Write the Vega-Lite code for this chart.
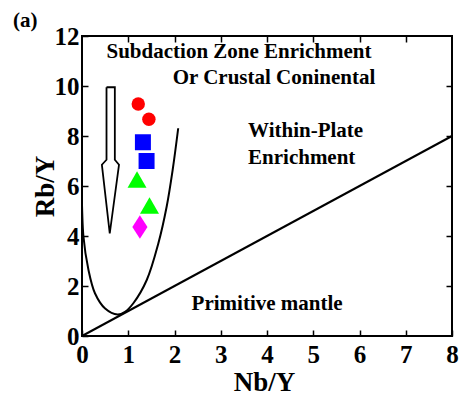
{
  "$schema": "https://vega.github.io/schema/vega-lite/v6.json",
  "width": 370,
  "height": 300,
  "autosize": "none",
  "padding": {"left": 82, "top": 36, "right": 7, "bottom": 63},
  "background": "white",
  "config": {
    "view": {"stroke": "black", "strokeWidth": 2},
    "axis": {
      "domain": false,
      "grid": false,
      "tickColor": "black",
      "tickWidth": 1.5,
      "tickSize": -6,
      "labelFont": "Liberation Serif",
      "labelFontWeight": "bold",
      "labelFontSize": 25,
      "labelColor": "black",
      "labelFlush": false,
      "labelOverlap": false,
      "titleFont": "Liberation Serif",
      "titleFontWeight": "bold",
      "titleFontSize": 27,
      "titleColor": "black"
    }
  },
  "datasets": {
    "samples": [
      {"nby": 1.216, "rby": 9.28, "g": "circle"},
      {"nby": 1.446, "rby": 8.67, "g": "circle"},
      {"nby": 1.317, "rby": 7.75, "g": "square"},
      {"nby": 1.396, "rby": 7.0, "g": "square"},
      {"nby": 1.19, "rby": 6.26, "g": "triangle"},
      {"nby": 1.46, "rby": 5.22, "g": "triangle"},
      {"nby": 1.252, "rby": 4.36, "g": "diamond"}
    ],
    "mantle": [
      {"nby": 0, "rby": 0},
      {"nby": 8, "rby": 8}
    ],
    "curve": [
      {"o": 1, "nby": -0.07, "rby": 9.2},
      {"o": 2, "nby": -0.02, "rby": 7.0},
      {"o": 3, "nby": 0.03, "rby": 4.0},
      {"o": 4, "nby": 0.14, "rby": 2.64},
      {"o": 5, "nby": 0.28, "rby": 1.71},
      {"o": 6, "nby": 0.5, "rby": 1.1},
      {"o": 7, "nby": 0.77, "rby": 0.86},
      {"o": 8, "nby": 0.93, "rby": 0.97},
      {"o": 9, "nby": 1.11, "rby": 1.31},
      {"o": 10, "nby": 1.4, "rby": 2.24},
      {"o": 11, "nby": 1.65, "rby": 3.7},
      {"o": 12, "nby": 1.83, "rby": 5.17},
      {"o": 13, "nby": 1.96, "rby": 6.64},
      {"o": 14, "nby": 2.08, "rby": 8.31}
    ],
    "arrow": [
      {"o": 1, "nby": 0.53, "rby": 9.95},
      {"o": 2, "nby": 0.71, "rby": 9.95},
      {"o": 3, "nby": 0.71, "rby": 7.05},
      {"o": 4, "nby": 0.8, "rby": 6.85},
      {"o": 5, "nby": 0.6, "rby": 4.1},
      {"o": 6, "nby": 0.43, "rby": 6.85},
      {"o": 7, "nby": 0.53, "rby": 7.05},
      {"o": 8, "nby": 0.53, "rby": 9.95}
    ],
    "notes": [
      {"nby": 0.53, "rby": 11.12, "t": "Subdaction Zone Enrichment"},
      {"nby": 1.96, "rby": 10.08, "t": "Or Crustal Coninental"},
      {"nby": 3.59, "rby": 7.96, "t": "Within-Plate"},
      {"nby": 3.59, "rby": 6.88, "t": "Enrichment"},
      {"nby": 2.37, "rby": 1.04, "t": "Primitive mantle"},
      {"nby": -1.49, "rby": 12.37, "t": "(a)"}
    ]
  },
  "layer": [
    {
      "data": {"name": "mantle"},
      "mark": {"type": "line", "color": "black", "strokeWidth": 2},
      "encoding": {
        "x": {"field": "nby", "type": "quantitative", "scale": {"domain": [0, 8], "nice": false, "zero": false},
              "axis": {"orient": "top", "labels": false, "title": null, "values": [1, 2, 3, 4, 5, 6, 7]}},
        "y": {"field": "rby", "type": "quantitative", "scale": {"domain": [0, 12], "nice": false, "zero": false},
              "axis": {"orient": "right", "labels": false, "title": null, "values": [2, 4, 6, 8, 10]}}
      }
    },
    {
      "data": {"name": "curve"},
      "mark": {"type": "line", "color": "black", "strokeWidth": 2, "interpolate": "catmull-rom", "clip": true},
      "encoding": {
        "x": {"field": "nby", "type": "quantitative", "axis": null},
        "y": {"field": "rby", "type": "quantitative", "axis": null},
        "order": {"field": "o", "type": "quantitative"}
      }
    },
    {
      "data": {"name": "arrow"},
      "mark": {"type": "line", "color": "black", "strokeWidth": 1.8},
      "encoding": {
        "x": {"field": "nby", "type": "quantitative", "axis": null},
        "y": {"field": "rby", "type": "quantitative", "axis": null},
        "order": {"field": "o", "type": "quantitative"}
      }
    },
    {
      "data": {"name": "notes"},
      "mark": {"type": "text", "align": "left", "baseline": "alphabetic", "font": "Liberation Serif", "fontWeight": "bold", "fontSize": 21, "color": "black"},
      "encoding": {
        "x": {"field": "nby", "type": "quantitative", "axis": null},
        "y": {"field": "rby", "type": "quantitative", "axis": null},
        "text": {"field": "t", "type": "nominal"}
      }
    },
    {
      "data": {"name": "samples"},
      "transform": [{"filter": "datum.g === 'circle'"}],
      "mark": {"type": "point", "shape": "circle", "filled": true, "opacity": 1, "strokeWidth": 0, "color": "#ff0000", "size": 180},
      "encoding": {
        "x": {"field": "nby", "type": "quantitative",
              "axis": {"orient": "bottom", "title": "Nb/Y", "values": [0, 1, 2, 3, 4, 5, 6, 7, 8], "labelPadding": 12,
                       "titleX": 182, "titleY": 54, "titleBaseline": "alphabetic", "titleAlign": "center"}},
        "y": {"field": "rby", "type": "quantitative",
              "axis": {"orient": "left", "title": "Rb/Y", "values": [0, 2, 4, 6, 8, 10, 12], "labelPadding": 9,
                       "titleX": -29, "titleY": 150, "titleAngle": -90, "titleBaseline": "alphabetic", "titleAlign": "center"}}
      }
    },
    {
      "data": {"name": "samples"},
      "transform": [{"filter": "datum.g === 'square'"}],
      "mark": {"type": "point", "shape": "square", "filled": true, "opacity": 1, "strokeWidth": 0, "color": "#0000ff", "size": 256},
      "encoding": {
        "x": {"field": "nby", "type": "quantitative", "axis": null},
        "y": {"field": "rby", "type": "quantitative", "axis": null}
      }
    },
    {
      "data": {"name": "samples"},
      "transform": [{"filter": "datum.g === 'triangle'"}],
      "mark": {"type": "point", "shape": "triangle-up", "filled": true, "opacity": 1, "strokeWidth": 0, "color": "#00ff00", "size": 360},
      "encoding": {
        "x": {"field": "nby", "type": "quantitative", "axis": null},
        "y": {"field": "rby", "type": "quantitative", "axis": null}
      }
    },
    {
      "data": {"name": "samples"},
      "transform": [{"filter": "datum.g === 'diamond'"}],
      "mark": {"type": "point", "shape": "M-0.64,0L0,-1L0.64,0L0,1Z", "filled": true, "opacity": 1, "strokeWidth": 0, "color": "#ff00ff", "size": 560},
      "encoding": {
        "x": {"field": "nby", "type": "quantitative", "axis": null},
        "y": {"field": "rby", "type": "quantitative", "axis": null}
      }
    }
  ],
  "resolve": {"axis": {"x": "independent", "y": "independent"}}
}
